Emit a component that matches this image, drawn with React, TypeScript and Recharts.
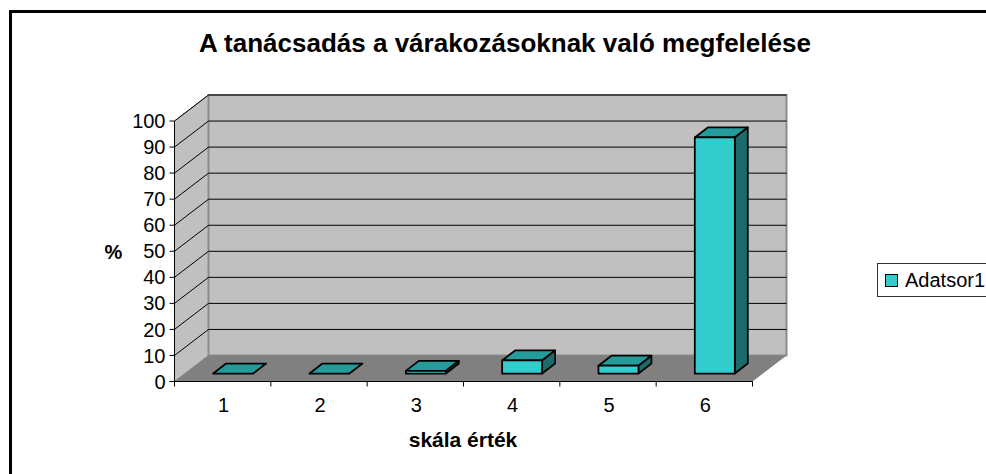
import React from "react";
import { BarChart, Bar, XAxis, YAxis, CartesianGrid, Legend } from "recharts";

const categories = ["1", "2", "3", "4", "5", "6"];
const seriesName = "Adatsor1";
const seriesValues = [0, 0, 1, 5, 3, 90.6];
const yTicks = [0, 10, 20, 30, 40, 50, 60, 70, 80, 90, 100];
const titleText = "A tanácsadás a várakozásoknak való megfelelése";
const xTitle = "skála érték";
const yTitle = "%";

const data = categories.map((c, i) => ({ cat: c, value: seriesValues[i] }));

const W = 986, H = 474;
const PX = 174.5, PY = 121, PW = 578, PH = 260.5;
const DX = 34, DY = 26;      // wall depth
const BDX = 13, BDY = 10;    // bar depth
const OX = (DX - BDX) / 2, OY = (DY - BDY) / 2; // bar's front-plane offset
const FONT = "'Liberation Sans', Arial, sans-serif";
const STEP = PW / categories.length;
const LEGEND_W = 130;

const Walls = () => (
  <g>
    <polygon points={`${PX},${PY} ${PX + DX},${PY - DY} ${PX + DX},${PY + PH - DY} ${PX},${PY + PH}`} fill="#c0c0c0" stroke="#808080" strokeWidth={1} />
    <rect x={PX + DX} y={PY - DY} width={PW} height={PH} fill="#c0c0c0" stroke="#8c8c8c" strokeWidth={2} />
    <polygon points={`${PX},${PY + PH} ${PX + DX},${PY + PH - DY} ${PX + PW + DX},${PY + PH - DY} ${PX + PW},${PY + PH}`} fill="#808080" />
  </g>
);

const GridLine = (p: any) => {
  const y = Number(p.y1);
  const isBase = Math.abs(y - (PY + PH)) < 1;
  return (
    <g key={p.key}>
      {p.index === 0 ? <Walls /> : null}
      {isBase ? null : (
        <path d={`M${PX},${y} L${PX + DX},${y - DY} L${PX + PW + DX},${y - DY}`} fill="none" stroke="#000" strokeWidth={1} />
      )}
    </g>
  );
};

const Bar3D = (p: any) => {
  const { x, y, width, height } = p;
  const fx = x + OX, fy = y - OY;
  const r = fx + width, b = fy + height;
  return (
    <g stroke="#000" strokeWidth={1.75} strokeLinejoin="round">
      <polygon points={`${fx},${fy} ${fx + BDX},${fy - BDY} ${r + BDX},${fy - BDY} ${r},${fy}`} fill="#269b9b" />
      {height > 0.5 ? <polygon points={`${r},${fy} ${r + BDX},${fy - BDY} ${r + BDX},${b - BDY} ${r},${b}`} fill="#1c6b6b" /> : null}
      {height > 0.5 ? <rect x={fx} y={fy} width={width} height={height} fill="#33cccc" /> : null}
    </g>
  );
};

const XTick = (p: any) => {
  const { x, payload } = p;
  const left = x - STEP / 2, right = x + STEP / 2;
  return (
    <g>
      {payload.index === 0 ? <line x1={left} x2={left} y1={PY + PH} y2={PY + PH + 5} stroke="#000" /> : null}
      <line x1={right} x2={right} y1={PY + PH} y2={PY + PH + 5} stroke="#000" />
      <text x={x + 1} y={PY + PH + 30} textAnchor="middle" fontFamily={FONT} fontSize={20} fill="#000">{payload.value}</text>
    </g>
  );
};

const LegendBox = ({ payload }: any) => (
  <div style={{ width: LEGEND_W, height: 34, boxSizing: "border-box", border: "1px solid #333", background: "#fff", display: "flex", alignItems: "center", fontFamily: FONT, fontSize: 20, color: "#000", whiteSpace: "nowrap" }}>
    <span style={{ width: 11, height: 11, marginLeft: 7, marginRight: 7, background: "#33cccc", border: "1px solid #000", flex: "none" }} />
    <span>{payload?.[0]?.value}</span>
  </div>
);

export default function App() {
  return (
    <div style={{ position: "absolute", left: 0, top: 0, width: W, height: H, overflow: "hidden", background: "#fff" }}>
      <div style={{ position: "absolute", left: 9, top: 10, right: 0, bottom: 0, borderLeft: "3px solid #000", borderTop: "3px solid #000" }} />
      <BarChart
        width={W}
        height={H}
        data={data}
        barCategoryGap="29.2%"
        margin={{ left: 0, top: PY, right: W - PX - PW - LEGEND_W, bottom: 0 }}
        style={{ position: "absolute", left: 0, top: 0 }}
      >
        <CartesianGrid vertical={false} horizontal={GridLine as any} />
        <XAxis dataKey="cat" height={H - PY - PH} axisLine={{ stroke: "#000" }} tickLine={false} tick={XTick as any} interval={0} />
        <YAxis width={PX} domain={[0, 100]} ticks={yTicks} interval={0} axisLine={{ stroke: "#000" }} tickLine={{ stroke: "#000" }} tickSize={5} tickMargin={4} tick={{ fontFamily: FONT, fontSize: 20, fill: "#000" }} />
        <Legend content={LegendBox as any} layout="vertical" align="right" verticalAlign="middle" wrapperStyle={{ left: 877, right: "auto", top: 263, width: LEGEND_W }} />
        <Bar dataKey="value" name={seriesName} fill="#33cccc" shape={Bar3D as any} isAnimationActive={false} />
        <text x={505} y={52} textAnchor="middle" fontFamily={FONT} fontSize={26} fontWeight="bold" fill="#000">{titleText}</text>
        <text x={113.5} y={259} textAnchor="middle" fontFamily={FONT} fontSize={20} fontWeight="bold" fill="#000">{yTitle}</text>
        <text x={463} y={447} textAnchor="middle" fontFamily={FONT} fontSize={21} fontWeight="bold" fill="#000">{xTitle}</text>
      </BarChart>
    </div>
  );
}
